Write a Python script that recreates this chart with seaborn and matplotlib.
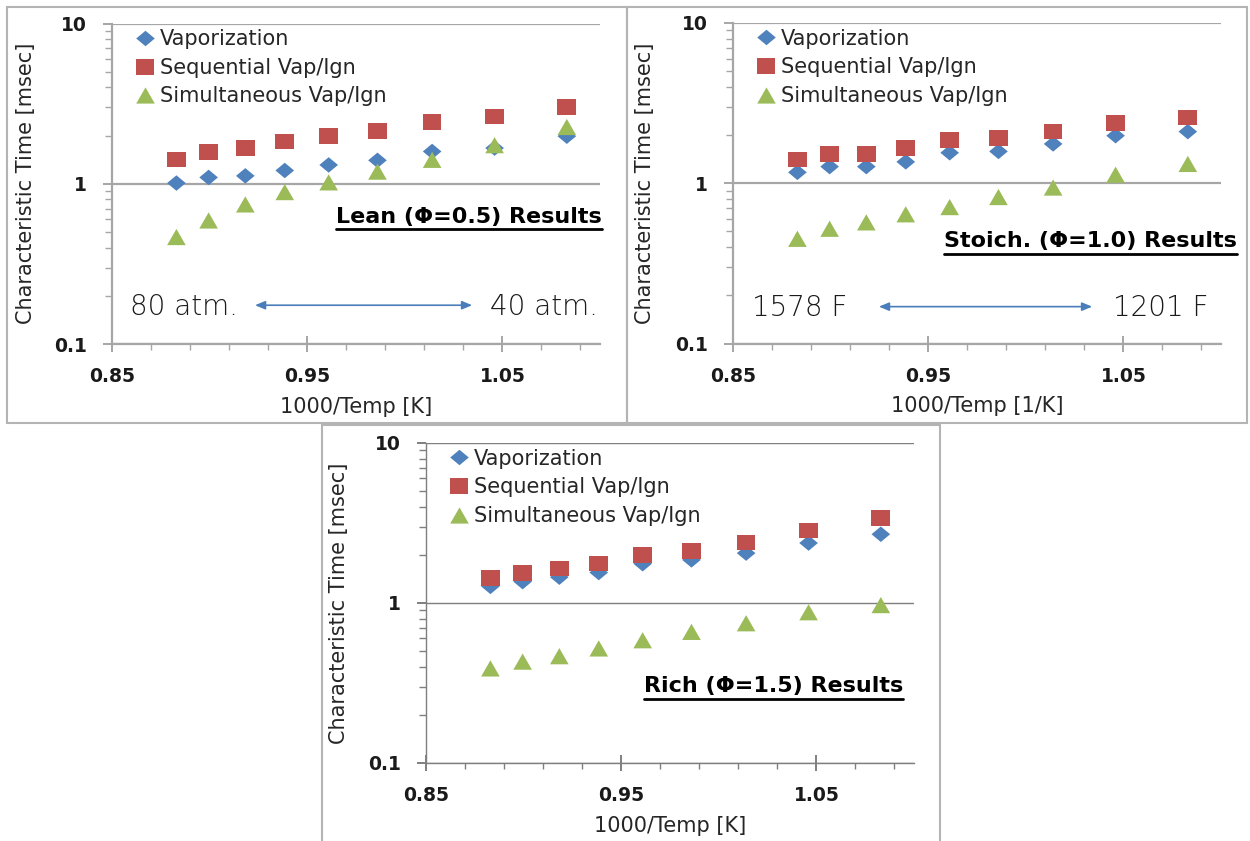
import numpy as np
import pandas as pd
import matplotlib
matplotlib.use("Agg")
import matplotlib.pyplot as plt
import seaborn as sns
from matplotlib.lines import Line2D
from matplotlib.patches import Rectangle
from matplotlib.ticker import FixedLocator, FixedFormatter, LogLocator, NullFormatter

# ---------------- data ----------------
inv_temp = [0.883, 0.8995, 0.9183, 0.9385, 0.961, 0.986, 1.014, 1.046, 1.083]

lean_vap = [1.01, 1.095, 1.12, 1.21, 1.31, 1.40, 1.59, 1.67, 1.98]
lean_seq = [1.42, 1.58, 1.67, 1.84, 1.99, 2.14, 2.42, 2.62, 3.02]
lean_sim = [0.465, 0.59, 0.743, 0.887, 1.02, 1.19, 1.41, 1.74, 2.26]

stoich_vap = [1.17, 1.27, 1.27, 1.36, 1.55, 1.58, 1.76, 1.98, 2.10]
stoich_seq = [1.41, 1.52, 1.52, 1.66, 1.86, 1.91, 2.10, 2.37, 2.58]
stoich_sim = [0.45, 0.52, 0.57, 0.64, 0.71, 0.82, 0.94, 1.13, 1.32]

rich_vap = [1.27, 1.36, 1.45, 1.55, 1.76, 1.86, 2.05, 2.37, 2.69]
rich_seq = [1.43, 1.54, 1.64, 1.76, 2.00, 2.12, 2.39, 2.83, 3.39]
rich_sim = [0.39, 0.43, 0.465, 0.52, 0.585, 0.66, 0.747, 0.875, 0.97]

series_names = ["Vaporization", "Sequential Vap/Ign", "Simultaneous Vap/Ign"]
xtick_values = [0.85, 0.95, 1.05]
xtick_labels = ["0.85", "0.95", "1.05"]
ytick_values = [0.1, 1, 10]
ytick_labels = ["0.1", "1", "10"]
ylabel_text = "Characteristic Time [msec]"

panels = [
    dict(vap=lean_vap, seq=lean_seq, sim=lean_sim, xlabel="1000/Temp [K]",
         title="Lean (\u03a6=0.5) Results", left_note="80 atm.", right_note="40 atm."),
    dict(vap=stoich_vap, seq=stoich_seq, sim=stoich_sim, xlabel="1000/Temp [1/K]",
         title="Stoich. (\u03a6=1.0) Results", left_note="1578 F", right_note="1201 F"),
    dict(vap=rich_vap, seq=rich_seq, sim=rich_sim, xlabel="1000/Temp [K]",
         title="Rich (\u03a6=1.5) Results", left_note=None, right_note=None),
]

# ---------------- style ----------------
sns.set_style("white")
plt.rcParams["font.family"] = ["DejaVu Sans"]

colors = {"Vaporization": "#4f81bd", "Sequential Vap/Ign": "#c0504d",
          "Simultaneous Vap/Ign": "#9bbb59"}
diamond = [(-1.2, 0), (0, -1), (1.2, 0), (0, 1)]
square = [(-1.2, -1), (1.2, -1), (1.2, 1), (-1.2, 1)]
triangle = [(-1.15, -1), (1.15, -1), (0, 1)]
markers = {"Vaporization": diamond, "Sequential Vap/Ign": square,
           "Simultaneous Vap/Ign": triangle}

W, H = 1250, 841
fig = plt.figure(figsize=(W / 100, H / 100), dpi=100)

# axes rectangles in pixels: (left, top, right, bottom)
ax_px = [(112, 23.5, 600, 344), (733, 23, 1221, 343.5), (426, 443, 914, 763)]
box_px = [(7, 7, 627, 423), (627, 7, 1247, 423), (322, 425, 940, 850)]
grid_style = [("#a6a6a6", 1.6), ("#a6a6a6", 1.6), ("#7f7f7f", 1.0)]
title_pos = [(1.004, 0.397, 0.359), (1.033, 0.321, 0.279), (0.977, 0.2416, 0.199)]
note_pos = [(0.148, 0.885, 0.116, 0.293, 0.738, 0.121),
            (0.136, 0.877, 0.111, 0.299, 0.736, 0.115), None]
ylabel_x = [-0.176, -0.180, -0.178]

for (l, t, r, b) in box_px:
    fig.add_artist(Rectangle((l / W, 1 - b / H), (r - l) / W, (b - t) / H,
                             transform=fig.transFigure, fill=False,
                             edgecolor="#b4b4b4", linewidth=1.5))

axes = []
texts = []
for i, p in enumerate(panels):
    l, t, r, b = ax_px[i]
    ax = fig.add_axes([l / W, 1 - b / H, (r - l) / W, (b - t) / H])
    ax.set_facecolor("none")
    df = pd.DataFrame({
        "x": inv_temp * 3,
        "y": list(p["vap"]) + list(p["seq"]) + list(p["sim"]),
        "series": [series_names[0]] * 9 + [series_names[1]] * 9 + [series_names[2]] * 9,
    })
    sns.scatterplot(data=df, x="x", y="y", hue="series", style="series",
                    palette=colors, markers=markers, s=180, linewidth=0,
                    legend=False, ax=ax, zorder=3)
    ax.set_yscale("log")
    ax.set_xlim(0.85, 1.10)
    ax.set_ylim(0.1, 10)

    gc, gw = grid_style[i]
    ax.yaxis.grid(True, which="major", color=gc, linewidth=gw)
    ax.xaxis.grid(False)
    for s in ["top", "right"]:
        ax.spines[s].set_visible(False)
    for s in ["left", "bottom"]:
        ax.spines[s].set_color(gc)
        ax.spines[s].set_linewidth(gw)

    ax.xaxis.set_major_locator(FixedLocator(xtick_values))
    ax.xaxis.set_major_formatter(FixedFormatter(xtick_labels))
    ax.xaxis.set_minor_locator(FixedLocator(np.arange(0.87, 1.10, 0.02)))
    ax.yaxis.set_major_locator(FixedLocator(ytick_values))
    ax.yaxis.set_major_formatter(FixedFormatter(ytick_labels))
    ax.yaxis.set_minor_locator(LogLocator(base=10, subs=np.arange(2, 10)))
    ax.yaxis.set_minor_formatter(NullFormatter())

    ax.tick_params(axis="x", which="major", direction="inout", length=11.5, width=1.4,
                   color=gc, pad=11.0, labelsize=13.5, labelcolor="#1a1a1a", bottom=True)
    ax.tick_params(axis="x", which="minor", direction="out", length=4.5, width=1.0,
                   color=gc, bottom=True)
    ax.tick_params(axis="y", which="major", direction="out", length=6.5, width=1.4,
                   color=gc, pad=11.5, labelsize=13.5, labelcolor="#1a1a1a", left=True)
    ax.tick_params(axis="y", which="minor", direction="out", length=4.8, width=1.0,
                   color=gc, left=True)
    for lab in ax.get_xticklabels() + ax.get_yticklabels():
        lab.set_fontweight("bold")

    ax.set_xlabel(p["xlabel"], fontsize=15, color="#262626")
    ax.xaxis.set_label_coords(0.5, -0.196)
    ax.xaxis.label.set_va("center")
    ax.set_ylabel(ylabel_text, fontsize=15, color="#262626")
    ax.yaxis.set_label_coords(ylabel_x[i], 0.5)
    ax.yaxis.label.set_va("center")

    handles = [Line2D([], [], linestyle="", marker=markers[n], markersize=13.4,
                      markerfacecolor=colors[n], markeredgewidth=0) for n in series_names]
    ax.legend(handles, series_names, loc="upper left", bbox_to_anchor=(0.048, 0.982),
              frameon=False, fontsize=15, borderpad=0, borderaxespad=0,
              handlelength=0.9, handletextpad=0.27, labelspacing=0.41,
              labelcolor="#262626")

    tx, ty, uy = title_pos[i]
    tt = ax.text(tx, ty, p["title"], transform=ax.transAxes, ha="right", va="center",
                 fontsize=16, fontweight="bold", color="black")
    texts.append((ax, tt, uy))

    if note_pos[i] is not None:
        lx, rx, ny, ax0, ax1, ay = note_pos[i]
        ax.text(lx, ny, p["left_note"], transform=ax.transAxes, ha="center", va="center",
                fontsize=20, fontweight="light", color="#1a1a1a")
        ax.text(rx, ny, p["right_note"], transform=ax.transAxes, ha="center", va="center",
                fontsize=20, fontweight="light", color="#1a1a1a")
        ax.annotate("", xy=(ax1, ay), xytext=(ax0, ay), xycoords="axes fraction",
                    textcoords="axes fraction",
                    arrowprops=dict(arrowstyle="<|-|>,head_length=0.6,head_width=0.25",
                                    color="#4a7ebb", lw=1.2, shrinkA=0, shrinkB=0))
    axes.append(ax)

# underline the panel titles
fig.canvas.draw()
renderer = fig.canvas.get_renderer()
for ax, tt, uy in texts:
    bb = tt.get_window_extent(renderer)
    inv = ax.transAxes.inverted()
    x0, _ = inv.transform((bb.x0, bb.y0))
    x1, _ = inv.transform((bb.x1, bb.y0))
    ax.add_line(Line2D([x0, x1], [uy, uy], transform=ax.transAxes, color="black",
                       linewidth=2.0, clip_on=False))

fig.savefig("out.png", dpi=100)
